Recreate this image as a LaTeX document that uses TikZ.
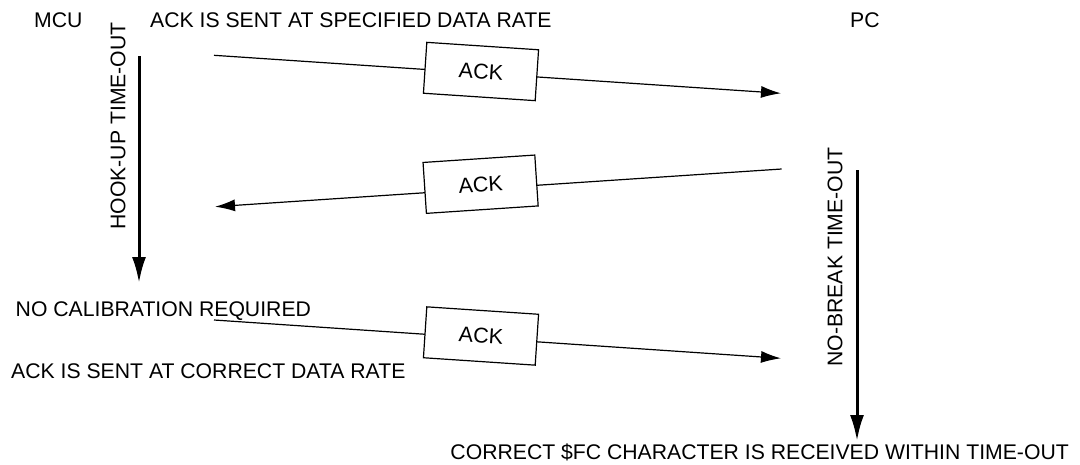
\documentclass[tikz,border=0pt]{standalone}
\usepackage{fontspec}
\setmainfont{Liberation Sans}
\usetikzlibrary{arrows.meta}
\tikzstyle{msg}  = [
    draw,
    line width=1.2pt,
    -{Latex[length=20pt,width=12pt]}
]
\tikzstyle{tout}  = [
    draw,
    line width=3pt,
    -{Latex[length=26pt,width=14pt]}
]
\tikzstyle{ackbox}  = [
    shape=rectangle,
    draw,
    fill=white,
    line width=1.2pt,
    inner sep=0pt,
    minimum width=112pt,
    minimum height=51pt,
    font=\fontsize{21.5}{24}\selectfont
]
\tikzstyle{lbl}  = [
    inner sep=0pt,
    font=\fontsize{21.2}{24}\selectfont
]

\begin{document}
\begin{tikzpicture}[x=1pt, y=-1pt]
\useasboundingbox (0,0) rectangle (1080,464);

\node[lbl, anchor=base west] (mcu)  at (34,27)  {MCU};
\node[lbl, anchor=base west] (pc)   at (850,27) {PC};
\node[lbl, anchor=base west] (spec) at (150,27) {ACK IS SENT AT SPECIFIED DATA RATE};
\node[lbl, anchor=base west] (nocal) at (15.5,316) {NO CALIBRATION REQUIRED};
\node[lbl, anchor=base west] (corr) at (11,378) {ACK IS SENT AT CORRECT DATA RATE};
\node[lbl, anchor=base east] (recv) at (1069,459) {CORRECT \$FC CHARACTER IS RECEIVED WITHIN TIME-OUT};
\node[lbl, rotate=90] (hookup)  at (118,126) {HOOK-UP TIME-OUT};
\node[lbl, rotate=90] (nobreak) at (835,257) {NO-BREAK TIME-OUT};

% time-outs
\coordinate (h0) at (139,56);
\coordinate (h1) at (139,283);
\coordinate (n0) at (857,170);
\coordinate (n1) at (857,441);
\draw[tout] (h0) -- (h1);
\draw[tout] (n0) -- (n1);

% messages
\coordinate (m1s) at (214,55.3);
\coordinate (m1e) at (781,93.3);
\coordinate (m2s) at (781.7,169);
\coordinate (m2e) at (215,206.7);
\coordinate (m3s) at (214,320);
\coordinate (m3e) at (781,358.3);
\draw[msg] (m1s) -- (m1e);
\draw[msg] (m2s) -- (m2e);
\draw[msg] (m3s) -- (m3e);
\node[ackbox, rotate=-3.8] (ack1) at (481,71.5) {ACK};
\node[ackbox, rotate=3.8]  (ack2) at (480.6,184.2) {ACK};
\node[ackbox, rotate=-3.8] (ack3) at (481,336) {ACK};

\end{tikzpicture}
\end{document}
